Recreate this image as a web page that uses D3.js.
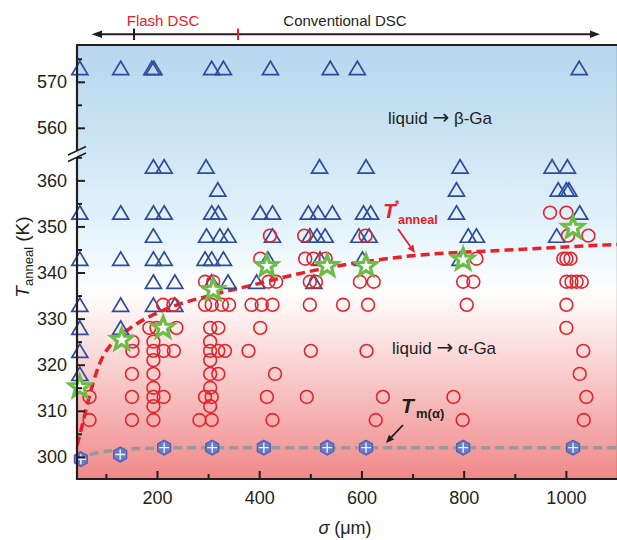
<!DOCTYPE html>
<html>
<head>
<meta charset="utf-8">
<script src="https://cdn.jsdelivr.net/npm/d3@7"></script>
<style>
  body { margin: 0; background: #fff; }
  svg text { font-family: "Liberation Sans", Arial, sans-serif; fill: #231f20; }
</style>
</head>
<body>
<div id="chart"></div>
<script>
// sigma (um), T_anneal (K)
const betaGa = [
  [49,573],[129,573],[190,573],[194,573],[307,573],[330,573],[422,573],[539,573],[592,573],[1026,573],
  [193,363],[214,363],[296,363],[518,363],[609,363],[793,363],[973,363],[1003,363],
  [319,358],[786,358],[985,358],[1001,358],[1006,358],
  [49,353],[129,353],[193,353],[214,353],[307,353],[320,353],[402,353],[426,353],[496,353],[515,353],[543,353],[604,353],[618,353],[786,353],[1027,353],
  [193,348],[297,348],[323,348],[339,348],[426,348],[499,348],[513,348],[529,348],[595,348],[615,348],[809,348],[825,348],[982,348],
  [49,343],[129,343],[193,343],[214,343],[294,343],[307,343],[330,343],[417,343],[519,343],[602,343],[793,343],
  [193,338],[235,338],[307,338],[339,338],[395,338],[507,338],
  [49,333],[129,333],[193,333],[235,333],
  [49,328],[129,328],
  [49,323],[49,318]
];

const alphaGa = [
  [969,353],[1001,353],
  [421,348],[488,348],[608,348],[1004,348],[1044,348],
  [402,343],[490,343],[506,343],[530,343],[825,343],[995,343],[1001,343],[1009,343],
  [294,338],[310,338],[418,338],[433,338],[499,338],[511,338],[597,338],[624,338],[799,338],[819,338],[1001,338],[1011,338],[1021,338],[1031,338],
  [212,333],[232,333],[294,333],[307,333],[327,333],[341,333],[385,333],[405,333],[426,333],[499,333],[564,333],[613,333],[806,333],[1001,333],
  [185,328],[199,328],[238,328],[304,328],[320,328],[402,328],[1001,328],
  [152,325],[193,325],[304,325],
  [152,323],[193,323],[213,323],[233,323],[304,323],[320,323],[333,323],[379,323],[501,323],[610,323],[1034,323],
  [193,321],[304,321],
  [151,318],[193,318],[304,318],[320,318],[431,318],[1027,318],
  [193,315],[304,315],
  [68,313],[151,313],[193,313],[213,313],[294,313],[307,313],[415,313],[493,313],[642,313],[780,313],[1040,313],
  [193,311],[304,311],
  [68,308],[151,308],[193,308],[283,308],[307,308],[426,308],[628,308],[798,308],[1035,308]
];

const tAnnealStar = [[49,315.1],[131,325.4],[212,328],[310,336.2],[415,341.4],[533,341.4],[609,341.4],[799,342.8],[1014,349.7]];
const tMelt = [[51,299.5],[128,300.5],[214,302],[308,302],[409,302],[533,302],[609,302],[799,302],[1014,302]];

const tAnnealCurve = [[43.5,302.5],[53,306.5],[64,311.6],[88,320.3],[115,325],[147,327.9],[212,331.8],[310,335.2],[388,337.3],[480,339.8],[705,343.7],[871,344.8],[1100,346.1]];
const tMeltCurve = [[43.5,299.2],[70,300.5],[100,301.2],[130,301.6],[200,301.9],[300,302],[1100,302]];

const xTicks = [200, 400, 600, 800, 1000];
const xMinor = [100, 300, 500, 700, 900];
const yLowTicks = [300, 310, 320, 330, 340, 350, 360];
const yLowMinor = [305, 315, 325, 335, 345, 355, 365];
const yHighTicks = [560, 570];
const yHighMinor = [565, 575];

const W = 617, H = 540;
const pL = 77, pR = 618, pT = 45, pB = 479;

const svg = d3.select('#chart').append('svg')
  .attr('width', W).attr('height', H);

const x = d3.scaleLinear().domain([43.5, 1100]).range([pL, pR - 1]);
const yLow = d3.scaleLinear().domain([295.2, 365.5]).range([pB, 155]);
const yHigh = d3.scaleLinear().domain([555.5, 578]).range([148.5, pT]);
const y = t => t > 450 ? yHigh(t) : yLow(t);

// background gradient
const defs = svg.append('defs');
const grad = defs.append('linearGradient').attr('id', 'bg')
  .attr('gradientUnits', 'userSpaceOnUse')
  .attr('x1', 0).attr('x2', 0).attr('y1', pT).attr('y2', pB);
[[0, '#b8d6ee'], [0.25, '#cee6f5'], [0.45, '#e8f5fc'], [0.56, '#fdfeff'], [0.6, '#fff6f6'],
 [0.75, '#f9cfcf'], [1, '#f08888']].forEach(s => {
  grad.append('stop').attr('offset', s[0]).attr('stop-color', s[1]);
});
defs.append('clipPath').attr('id', 'plot')
  .append('rect').attr('x', pL).attr('y', pT).attr('width', pR - pL).attr('height', pB - pT);

svg.append('rect')
  .attr('x', pL).attr('y', pT).attr('width', pR - pL).attr('height', pB - pT)
  .attr('fill', 'url(#bg)');

const plot = svg.append('g').attr('clip-path', 'url(#plot)');
const marks = svg.append('g');

// fitted curves
const line = d3.line().x(d => x(d[0])).y(d => y(d[1])).curve(d3.curveMonotoneX);

plot.append('path').datum(tMeltCurve)
  .attr('d', line).attr('fill', 'none')
  .attr('stroke', '#999999').attr('stroke-width', 3.5).attr('stroke-dasharray', '9,5');

plot.append('path').datum(tAnnealCurve)
  .attr('d', line).attr('fill', 'none')
  .attr('stroke', '#e8202a').attr('stroke-width', 3.5).attr('stroke-dasharray', '9,5');

// markers
marks.selectAll('.tri').data(betaGa).enter().append('path')
  .attr('class', 'tri')
  .attr('d', 'M0,-6.8L8,6.6L-8,6.6Z')
  .attr('transform', d => `translate(${x(d[0])},${y(d[1])})`)
  .attr('fill', 'none').attr('stroke', '#2e4c9f').attr('stroke-width', 1.7);

marks.selectAll('.circ').data(alphaGa).enter().append('circle')
  .attr('class', 'circ')
  .attr('cx', d => x(d[0])).attr('cy', d => y(d[1])).attr('r', 6.4)
  .attr('fill', 'none').attr('stroke', '#e5232b').attr('stroke-width', 1.6);

const hexPath = d3.range(6).map(i => {
  const a = -Math.PI / 2 + i * Math.PI / 3;
  return [7.5 * Math.cos(a), 7.5 * Math.sin(a)];
});
const hex = marks.selectAll('.hex').data(tMelt).enter().append('g')
  .attr('class', 'hex')
  .attr('transform', d => `translate(${x(d[0])},${y(d[1])})`);
hex.append('path').attr('d', 'M' + hexPath.join('L') + 'Z')
  .attr('fill', '#6a7cc9').attr('stroke', '#4a5db5').attr('stroke-width', 1.2);
hex.append('path').attr('d', 'M-5,0H5M0,-5V5')
  .attr('stroke', '#eef0f8').attr('stroke-width', 1.4);

const starPts = d3.range(10).map(i => {
  const r = i % 2 ? 4.6 : 11;
  const a = -Math.PI / 2 + i * Math.PI / 5;
  return [r * Math.cos(a), r * Math.sin(a)];
});
marks.selectAll('.star').data(tAnnealStar).enter().append('path')
  .attr('class', 'star')
  .attr('d', 'M' + starPts.join('L') + 'Z')
  .attr('transform', d => `translate(${x(d[0])},${y(d[1])})`)
  .attr('fill', '#ffffff').attr('stroke', '#6cbd45').attr('stroke-width', 3.2)
  .attr('stroke-linejoin', 'miter');

// axes
const axisStyle = g => {
  g.select('.domain').remove();
  g.selectAll('.tick line').attr('stroke', '#231f20').attr('stroke-width', 2);
  g.selectAll('.tick text').attr('font-size', 18).attr('fill', '#231f20')
    .attr('font-family', '"Liberation Sans", Arial, sans-serif');
};

svg.append('g').attr('transform', `translate(0,${pB})`)
  .call(d3.axisBottom(x).tickValues(xTicks).tickSize(-8).tickPadding(12).tickFormat(d3.format('d')))
  .call(axisStyle);
svg.append('g').attr('transform', `translate(0,${pB})`)
  .call(d3.axisBottom(x).tickValues(xMinor).tickSize(-5).tickFormat(''))
  .call(axisStyle);

svg.append('g').attr('transform', `translate(${pL},0)`)
  .call(d3.axisLeft(yLow).tickValues(yLowTicks).tickSize(-8).tickPadding(10))
  .call(axisStyle);
svg.append('g').attr('transform', `translate(${pL},0)`)
  .call(d3.axisLeft(yLow).tickValues(yLowMinor).tickSize(-5).tickFormat(''))
  .call(axisStyle);
svg.append('g').attr('transform', `translate(${pL},0)`)
  .call(d3.axisLeft(yHigh).tickValues(yHighTicks).tickSize(-8).tickPadding(10))
  .call(axisStyle);
svg.append('g').attr('transform', `translate(${pL},0)`)
  .call(d3.axisLeft(yHigh).tickValues(yHighMinor).tickSize(-5).tickFormat(''))
  .call(axisStyle);

// frame with axis break
const frame = svg.append('g').attr('stroke', '#231f20').attr('stroke-width', 2.2).attr('fill', 'none');
frame.append('path').attr('d', `M${pL},151V${pT}H${pR}V${pB}H${pL}V157`);
frame.append('path').attr('d', 'M68,155L86,146.5M68,161.5L86,153').attr('stroke-width', 1.6);

// axis titles
svg.append('text')
  .attr('x', 345).attr('y', 534).attr('text-anchor', 'middle').attr('font-size', 18)
  .call(t => {
    t.append('tspan').attr('font-style', 'italic').text('σ');
    t.append('tspan').text(' (μm)');
  });

svg.append('text')
  .attr('transform', 'translate(29,257) rotate(-90)')
  .attr('text-anchor', 'middle').attr('font-size', 19)
  .call(t => {
    t.append('tspan').attr('font-style', 'italic').text('T');
    t.append('tspan').attr('font-size', 13).attr('dy', 4).text('anneal');
    t.append('tspan').attr('dy', -4).text(' (K)');
  });

// region labels
const regionLabel = (px, py, phase) => svg.append('text')
  .attr('x', px).attr('y', py).attr('font-size', 17)
  .call(t => {
    t.append('tspan').text('liquid ');
    t.append('tspan').attr('font-family', '"DejaVu Sans", sans-serif').attr('font-size', 20).text('→');
    t.append('tspan').text(' ' + phase + '-Ga');
  });
regionLabel(388, 124, 'β');
regionLabel(392, 354, 'α');

// curve labels
const red = '#e8202a';
svg.append('text').attr('x', 383).attr('y', 218).attr('font-size', 21)
  .attr('font-weight', 'bold').attr('font-style', 'italic').style('fill', red).text('T');
svg.append('text').attr('x', 395).attr('y', 208).attr('font-size', 11)
  .attr('font-weight', 'bold').style('fill', red).text('*');
svg.append('text').attr('x', 398).attr('y', 224).attr('font-size', 12.5)
  .attr('font-weight', 'bold').style('fill', red).text('anneal');

svg.append('text').attr('x', 401).attr('y', 413).attr('font-size', 21)
  .attr('font-weight', 'bold').attr('font-style', 'italic').text('T');
svg.append('text').attr('x', 416).attr('y', 418).attr('font-size', 13)
  .attr('font-weight', 'bold').text('m(α)');

function arrow(x1, y1, x2, y2, color, len, half) {
  const a = Math.atan2(y2 - y1, x2 - x1);
  const bx = x2 - len * Math.cos(a), by = y2 - len * Math.sin(a);
  svg.append('line').attr('x1', x1).attr('y1', y1).attr('x2', bx).attr('y2', by)
    .attr('stroke', color).attr('stroke-width', 1.8);
  svg.append('path')
    .attr('d', `M${x2},${y2}L${bx + half * Math.sin(a)},${by - half * Math.cos(a)}L${bx - half * Math.sin(a)},${by + half * Math.cos(a)}Z`)
    .attr('fill', color);
}
arrow(398, 229, 415, 253, red, 8, 3.5);
arrow(403, 425, 386, 443, '#231f20', 8, 3.5);

// top method annotation
const topY = 34.3;
svg.append('line').attr('x1', 100).attr('x2', 592).attr('y1', topY).attr('y2', topY)
  .attr('stroke', '#231f20').attr('stroke-width', 2);
svg.append('path').attr('d', `M91.7,${topY}L102,${topY - 3.8}L102,${topY + 3.8}Z`).attr('fill', '#231f20');
svg.append('path').attr('d', `M600,${topY}L590,${topY - 3.8}L590,${topY + 3.8}Z`).attr('fill', '#231f20');
svg.append('line').attr('x1', 134).attr('x2', 134).attr('y1', 28.5).attr('y2', 40)
  .attr('stroke', '#231f20').attr('stroke-width', 2);
svg.append('line').attr('x1', 238).attr('x2', 238).attr('y1', 28.5).attr('y2', 40)
  .attr('stroke', red).attr('stroke-width', 2);
svg.append('text').attr('x', 163).attr('y', 25.5).attr('text-anchor', 'middle')
  .attr('font-size', 15).style('fill', red).text('Flash DSC');
svg.append('text').attr('x', 345).attr('y', 25.5).attr('text-anchor', 'middle')
  .attr('font-size', 15).text('Conventional DSC');
</script>
</body>
</html>
